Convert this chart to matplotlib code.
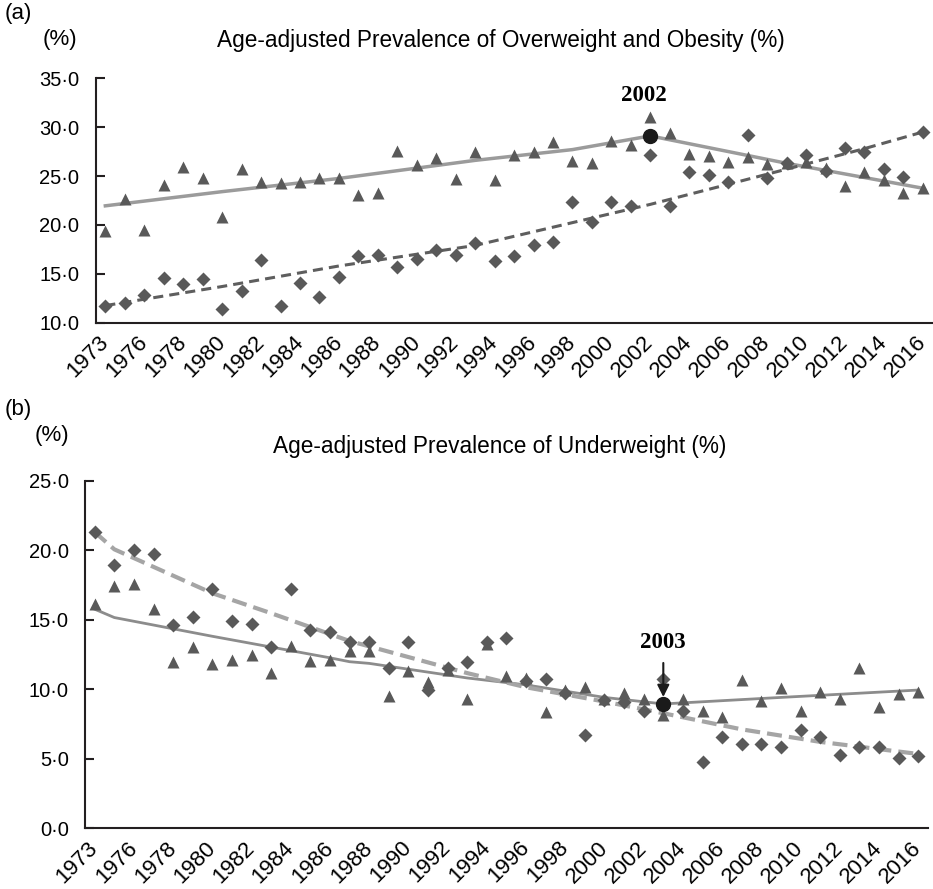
import numpy as np
import matplotlib
matplotlib.use('Agg')
import matplotlib.pyplot as plt

plt.rcParams['font.family'] = ['Liberation Sans', 'DejaVu Sans']

# survey years (1974 missing)
years = [1973, 1975, 1976, 1977, 1978, 1979, 1980, 1981, 1982, 1983, 1984,
         1985, 1986, 1987, 1988, 1989, 1990, 1991, 1992, 1993, 1994, 1995,
         1996, 1997, 1998, 1999, 2000, 2001, 2002, 2003, 2004, 2005, 2006,
         2007, 2008, 2009, 2010, 2011, 2012, 2013, 2014, 2015, 2016]

# (a) overweight and obesity, observed
ow_tri = [19.4, 22.6, 19.5, 24.1, 25.9, 24.8, 20.8, 25.7, 24.35, 24.3, 24.35,
          24.8, 24.8, 23.1, 23.3, 27.55, 26.1, 26.8, 24.7, 27.5, 24.6, 27.15,
          27.5, 28.45, 26.5, 26.3, 28.6, 28.2, 31.0, 29.35, 27.25, 27.0, 26.4,
          26.9, 26.2, 26.3, 26.4, 25.8, 24.0, 25.4, 24.6, 23.3, 23.75]
ow_dia = [11.7, 12.0, 12.8, 14.6, 13.95, 14.5, 11.4, 13.2, 16.4, 11.75, 14.1,
          12.65, 14.7, 16.85, 16.95, 15.7, 16.5, 17.45, 16.95, 18.1, 16.3, 16.85,
          17.9, 18.3, 22.3, 20.3, 22.35, 21.9, 27.15, 21.9, 25.4, 25.15, 24.35,
          29.15, 24.8, 26.3, 27.1, 25.5, 27.9, 27.5, 25.7, 24.9, 29.5]
# (a) fitted trends
ow_tri_fit_years = [1973, 1980, 1986, 1993, 1998, 2002, 2009, 2016]
ow_tri_fit = [21.95, 23.4, 24.75, 26.6, 27.7, 29.1, 26.3, 23.75]
ow_dia_fit_years = [1973, 1980, 1986, 1993, 1996, 1999, 2002, 2006, 2009, 2013, 2016]
ow_dia_fit = [11.75, 13.7, 15.8, 17.9, 19.3, 20.7, 22.1, 24.15, 25.7, 27.8, 29.5]

# (b) underweight, observed
uw_tri = [16.13, 17.42, 17.57, 15.8, 11.98, 13.0, 11.8, 12.1, 12.45, 11.13, 13.1,
          12.02, 12.1, 12.77, 12.77, 9.5, 11.33, 10.53, 11.37, 9.3, 13.25, 10.94,
          10.78, 8.37, 9.93, 10.17, 9.3, 9.7, 9.26, 8.13, 9.29, 8.42, 8.0,
          10.66, 9.17, 10.06, 8.45, 9.81, 9.29, 11.5, 8.69, 9.62, 9.81]
uw_dia = [21.33, 18.9, 20.0, 19.7, 14.64, 15.17, 17.23, 14.9, 14.66, 13.05, 17.23,
          14.23, 14.13, 13.4, 13.4, 11.52, 13.4, 9.94, 11.5, 11.97, 13.4, 13.65,
          10.6, 10.7, 9.74, 6.7, 9.2, 9.1, 8.45, 10.7, 8.42, 4.73, 6.53,
          6.05, 6.03, 5.81, 7.06, 6.58, 5.26, 5.86, 5.86, 5.06, 5.18]
# (b) fitted trends
uw_tri_fit_years = [1973, 1975, 1980, 1986, 1987, 1988, 1993, 1996, 2000, 2003, 2009, 2016]
uw_tri_fit = [15.75, 15.15, 13.8, 12.25, 11.97, 11.85, 10.8, 10.3, 9.4, 8.93, 9.4, 9.93]
uw_dia_fit_years = [1973, 1975, 1980, 1983, 1987, 1993, 1996, 2000, 2003, 2007, 2011, 2016]
uw_dia_fit = [21.3, 20.06, 16.9, 15.46, 13.46, 11.15, 10.13, 9.1, 8.26, 7.1, 6.2, 5.33]

joint_a = 2002
joint_b = 2003

title_a = 'Age-adjusted Prevalence of Overweight and Obesity (%)'
title_b = 'Age-adjusted Prevalence of Underweight (%)'

MARK = '#595959'
AXC = '#231f20'
idx = np.arange(len(years))


def pos(yrs):
    return [years.index(y) for y in yrs]


def style_axes(ax, ylim, yticks):
    ax.set_xlim(-0.48, len(years) - 0.5)
    ax.set_ylim(*ylim)
    for s in ['top', 'right']:
        ax.spines[s].set_visible(False)
    for s in ['left', 'bottom']:
        ax.spines[s].set_linewidth(1.5)
        ax.spines[s].set_color(AXC)
    ax.set_yticks(yticks)
    ax.set_yticklabels([f'{v:.1f}'.replace('.', '\u00b7') for v in yticks], fontsize=14.5)
    ax.tick_params(axis='y', direction='in', length=6.5, width=1.5, color=AXC, pad=12)
    lab_idx = list(range(0, len(years), 2))
    ax.set_xticks(lab_idx)
    ax.set_xticklabels([str(years[i]) for i in lab_idx], fontsize=16,
                       rotation=45, ha='right', va='center', rotation_mode='anchor')
    ax.tick_params(axis='x', length=0, pad=12)


fig = plt.figure(figsize=(9.33, 8.89), dpi=100)
ax_a = fig.add_axes([96 / 933, 566.3 / 889, (932.6 - 96) / 933, (810.8 - 566.3) / 889])
ax_b = fig.add_axes([85.3 / 933, 61 / 889, (928 - 85.3) / 933, (828 - 480.7) / 889])

# ---- panel (a)
ax_a.plot(pos(ow_tri_fit_years), ow_tri_fit, color='#9b9b9b', lw=2.5, zorder=2)
ax_a.plot(pos(ow_dia_fit_years), ow_dia_fit, color='#5e5e5e', lw=2.2,
          linestyle=(0, (3.3, 2.0)), zorder=2)
ax_a.plot(idx, ow_tri, '^', color=MARK, ms=8.8, mec='none', zorder=3)
ax_a.plot(idx, ow_dia, 'D', color=MARK, ms=6.8, mec='none', zorder=3)
ja = years.index(joint_a)
va_ = ow_tri_fit[ow_tri_fit_years.index(joint_a)]
ax_a.plot(ja, va_, 'o', color='#1a1a1a', ms=10, zorder=4)
ax_a.annotate(str(joint_a), (ja, va_), xytext=(-5, 29), textcoords='offset points',
              ha='center', va='center', fontsize=16.5, fontweight='bold',
              family=['Liberation Serif', 'DejaVu Serif'])
style_axes(ax_a, (10, 35), [10, 15, 20, 25, 30, 35])

# ---- panel (b)
ax_b.plot(pos(uw_tri_fit_years), uw_tri_fit, color='#8c8c8c', lw=2.0, zorder=2)
ax_b.plot(pos(uw_dia_fit_years), uw_dia_fit, color='#a5a5a5', lw=3.0,
          linestyle=(0, (3.6, 1.7)), zorder=2)
ax_b.plot(idx, uw_tri, '^', color=MARK, ms=8.8, mec='none', zorder=3)
ax_b.plot(idx, uw_dia, 'D', color=MARK, ms=6.8, mec='none', zorder=3)
jb = years.index(joint_b)
vb_ = uw_tri_fit[uw_tri_fit_years.index(joint_b)]
ax_b.plot(jb, vb_, 'o', color='#1a1a1a', ms=10, zorder=4)
ax_b.annotate('', (jb, vb_), xytext=(0, 29.5), textcoords='offset points',
              arrowprops=dict(arrowstyle='-|>', color='#1a1a1a', lw=1.5,
                              shrinkA=0, shrinkB=5, mutation_scale=18))
ax_b.annotate(str(joint_b), (jb, vb_), xytext=(0, 44.5), textcoords='offset points',
              ha='center', va='center', fontsize=16.5, fontweight='bold',
              family=['Liberation Serif', 'DejaVu Serif'])
style_axes(ax_b, (0, 25), [0, 5, 10, 15, 20, 25])

# headers
H = 889
fig.text(18 / 933, 1 - 13 / H, '(a)', ha='center', va='center', fontsize=16)
fig.text(60 / 933, 1 - 40 / H, '(%)', ha='center', va='center', fontsize=16)
fig.text(501 / 933, 1 - 41 / H, title_a, ha='center', va='center', fontsize=16.3)
fig.text(18 / 933, 1 - 409 / H, '(b)', ha='center', va='center', fontsize=16)
fig.text(52 / 933, 1 - 436 / H, '(%)', ha='center', va='center', fontsize=16)
fig.text(500 / 933, 1 - 447 / H, title_b, ha='center', va='center', fontsize=16.3)

fig.savefig('out.png', dpi=100)
